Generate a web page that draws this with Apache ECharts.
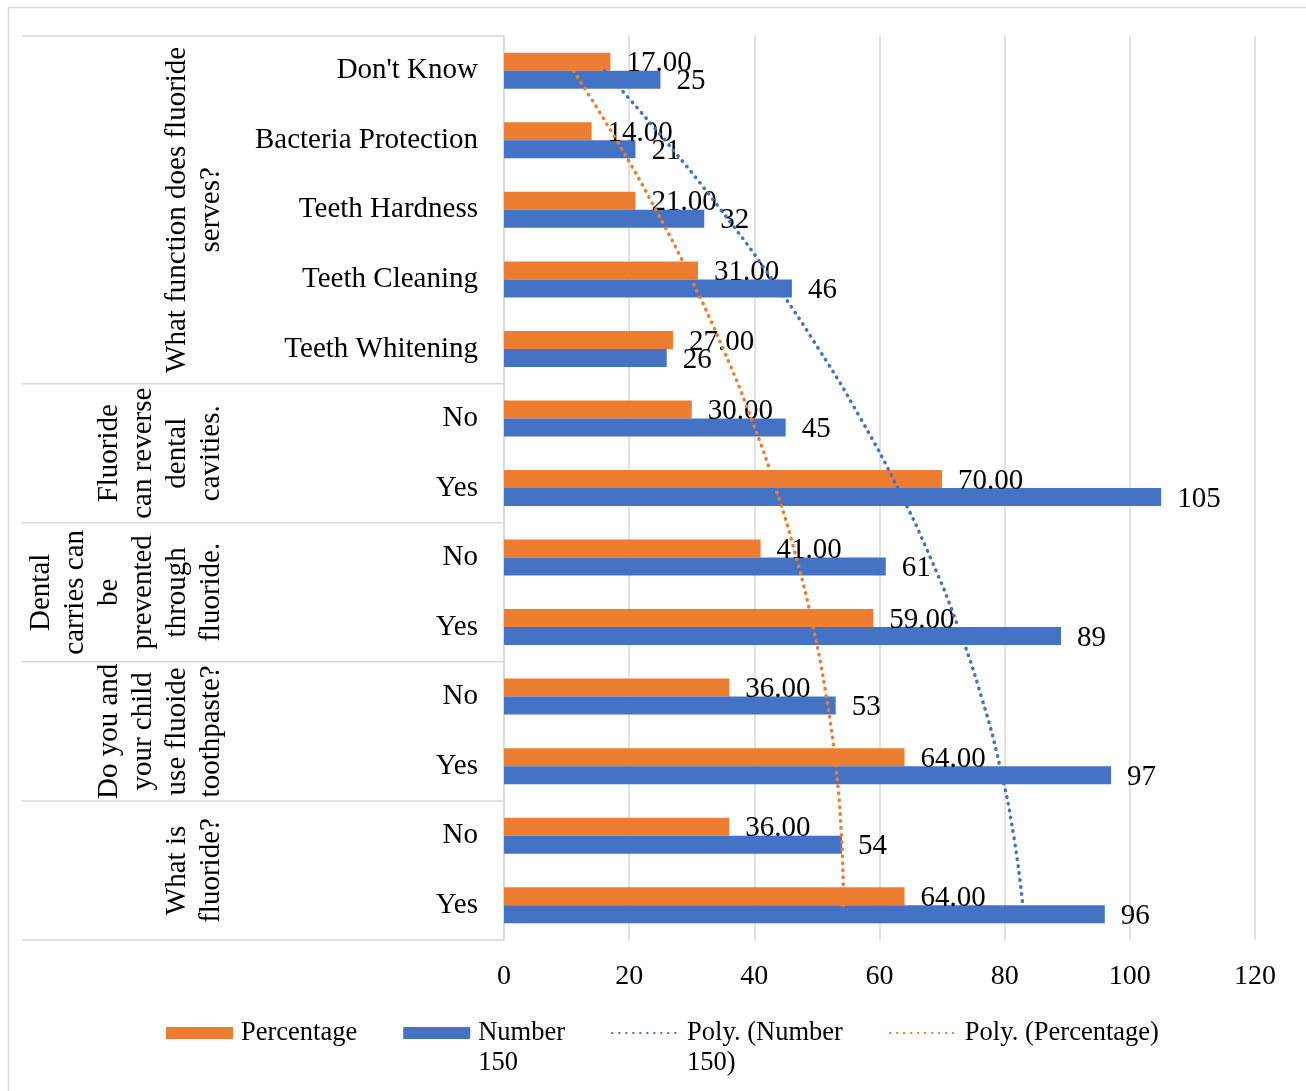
<!DOCTYPE html>
<html>
<head>
<meta charset="utf-8">
<title>Fluoride knowledge</title>
<script src="https://cdn.jsdelivr.net/npm/echarts@6/dist/echarts.min.js"></script>
<style>
  html,
  body {
    margin: 0;
    padding: 0;
    background: #fff;
  }
  #chart {
    width: 1306px;
    height: 1091px;
  }
</style>
</head>
<body>
<div id="chart"></div>
<script>
// inner category labels, top to bottom
const categories = ["Don't Know", 'Bacteria Protection', 'Teeth Hardness', 'Teeth Cleaning', 'Teeth Whitening',
  'No', 'Yes', 'No', 'Yes', 'No', 'Yes', 'No', 'Yes'];
// outer question labels (already broken in lines) and how many categories each one covers
const groupLines = [
  ['What function does fluoride', 'serves?'],
  ['Fluoride', 'can reverse', 'dental', 'cavities.'],
  ['Dental', 'carries can', 'be', 'prevented', 'through', 'fluoride.'],
  ['Do you and', 'your child', 'use fluoide', 'toothpaste?'],
  ['What is', 'fluoride?'],
];
const groupSizes = [5, 2, 2, 2, 2];
const percentage = [17, 14, 21, 31, 27, 30, 70, 41, 59, 36, 64, 36, 64];
const number150 = [25, 21, 32, 46, 26, 45, 105, 61, 89, 53, 97, 54, 96];
const xTicks = [0, 20, 40, 60, 80, 100, 120];

const FONT = "'Liberation Serif', 'Times New Roman', serif";
const ORANGE = '#ED7D31';
const BLUE = '#4472C4';
const GRID_GRAY = '#d9d9d9';

// 2nd order least squares fit, like the "Polynomial" trendline of the spreadsheet
function polyTrend(values) {
  const s = [0, 0, 0, 0, 0];
  const t = [0, 0, 0];
  values.forEach((y, i) => {
    const x = i + 1;
    for (let k = 0; k < 5; k++) s[k] += Math.pow(x, k);
    for (let k = 0; k < 3; k++) t[k] += y * Math.pow(x, k);
  });
  const m = [
    [s[0], s[1], s[2], t[0]],
    [s[1], s[2], s[3], t[1]],
    [s[2], s[3], s[4], t[2]],
  ];
  // gauss elimination
  for (let c = 0; c < 3; c++) {
    for (let r = c + 1; r < 3; r++) {
      const f = m[r][c] / m[c][c];
      for (let k = c; k < 4; k++) m[r][k] -= f * m[c][k];
    }
  }
  const coef = [0, 0, 0];
  for (let r = 2; r >= 0; r--) {
    let v = m[r][3];
    for (let k = r + 1; k < 3; k++) v -= m[r][k] * coef[k];
    coef[r] = v / m[r][r];
  }
  return values.map((_, i) => {
    const x = i + 1;
    return coef[0] + coef[1] * x + coef[2] * x * x;
  });
}

const legendNames = {
  'Number 150': '\nNumber\n150',
  'Poly. (Number 150)': '\nPoly. (Number\n150)',
};

function getOptions() {
  return {
    animation: false,
    grid: {
      left: 504,
      right: 51,
      top: 36,
      bottom: 151,
    },
    legend: {
      left: 166,
      top: 988,
      padding: 0,
      itemGap: 46,
      itemWidth: 67,
      itemHeight: 12,
      data: [
        { name: 'Percentage', icon: 'rect' },
        { name: 'Number 150', icon: 'rect' },
        // hide the round marker, keep only the dotted line
        { name: 'Poly. (Number 150)', itemStyle: { opacity: 0 } },
        { name: 'Poly. (Percentage)', itemStyle: { opacity: 0 } },
      ],
      formatter: (name) => legendNames[name] || name,
      textStyle: {
        fontFamily: FONT,
        fontSize: 26.5,
        lineHeight: 30,
        color: '#000',
        padding: [0, 0, 0, 3],
      },
    },
    xAxis: {
      type: 'value',
      min: xTicks[0],
      max: xTicks[xTicks.length - 1],
      interval: xTicks[1] - xTicks[0],
      axisLine: { show: false },
      axisTick: { show: false },
      splitLine: {
        lineStyle: { color: GRID_GRAY, width: 1.5 },
      },
      axisLabel: {
        color: '#000',
        fontFamily: FONT,
        fontSize: 28,
        margin: 23,
      },
    },
    yAxis: {
      type: 'category',
      inverse: true,
      data: categories,
      axisTick: { show: false },
      axisLine: {
        lineStyle: { color: GRID_GRAY, width: 1.5 },
      },
      axisLabel: {
        color: '#000',
        fontFamily: FONT,
        fontSize: 29,
        margin: 26,
        padding: [4, 0, 0, 0],
      },
    },
    series: [
      {
        name: 'Percentage',
        type: 'bar',
        data: percentage,
        barWidth: 18,
        barGap: '0%',
        itemStyle: { color: ORANGE },
        label: {
          show: true,
          position: 'right',
          distance: 16,
          offset: [0, 2],
          color: '#000',
          fontFamily: FONT,
          fontSize: 29,
          formatter: (p) => p.value.toFixed(2),
        },
      },
      {
        name: 'Number 150',
        type: 'bar',
        data: number150,
        barWidth: 18,
        barGap: '0%',
        itemStyle: { color: BLUE },
        label: {
          show: true,
          position: 'right',
          distance: 16,
          offset: [0, 2],
          color: '#000',
          fontFamily: FONT,
          fontSize: 29,
        },
      },
      {
        name: 'Poly. (Number 150)',
        type: 'line',
        data: polyTrend(number150),
        smooth: true,
        symbol: 'none',
        z: 5,
        lineStyle: { color: BLUE, width: 3.5, type: [0.5, 6.5], cap: 'round' },
        itemStyle: { color: BLUE },
      },
      {
        name: 'Poly. (Percentage)',
        type: 'line',
        data: polyTrend(percentage),
        smooth: true,
        symbol: 'none',
        z: 5,
        lineStyle: { color: ORANGE, width: 3.5, type: [0.5, 6.5], cap: 'round' },
        itemStyle: { color: ORANGE },
      },
    ],
  };
}

// group labels and separators of the two level axis, placed from the category scale
function buildGraphic(chart) {
  const c0 = chart.convertToPixel({ yAxisIndex: 0 }, 0);
  const c1 = chart.convertToPixel({ yAxisIndex: 0 }, 1);
  const band = c1 - c0;
  const axisX = chart.convertToPixel({ xAxisIndex: 0 }, 0);
  const elements = [
    {
      type: 'rect',
      shape: { x: 8.5, y: 7.5, width: 1400, height: 1200 },
      style: { fill: 'none', stroke: GRID_GRAY, lineWidth: 1.5 },
      silent: true,
    },
  ];
  let start = 0;
  const hLine = (y) => ({
    type: 'line',
    shape: { x1: 22, y1: y, x2: axisX, y2: y },
    style: { stroke: GRID_GRAY, lineWidth: 1.5 },
    silent: true,
  });
  elements.push(hLine(c0 - band / 2));
  groupSizes.forEach((size, g) => {
    const top = c0 + (start - 0.5) * band;
    const bottom = top + size * band;
    elements.push(hLine(bottom));
    elements.push({
      type: 'text',
      x: 228,
      y: (top + bottom) / 2,
      rotation: Math.PI / 2,
      silent: true,
      style: {
        text: groupLines[g].join('\n'),
        fill: '#000',
        fontFamily: FONT,
        fontSize: 29,
        lineHeight: 34,
        align: 'center',
        verticalAlign: 'bottom',
      },
    });
    start += size;
  });
  return elements;
}

const chart = echarts.init(document.getElementById('chart'));
chart.setOption(getOptions());
chart.setOption({ graphic: buildGraphic(chart) });
</script>
</body>
</html>
